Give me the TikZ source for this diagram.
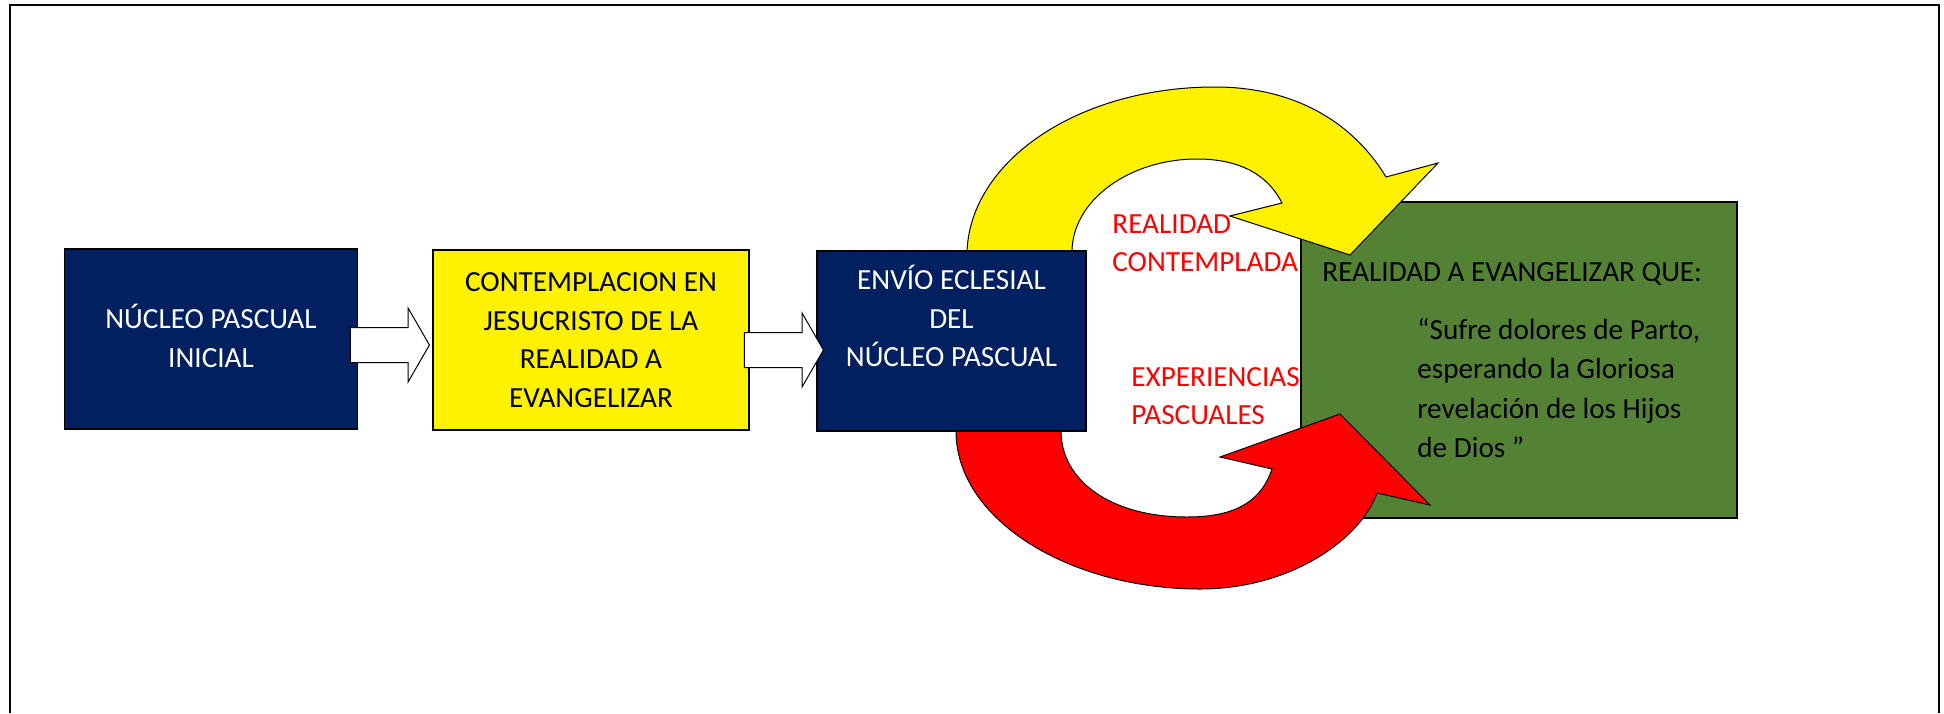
\documentclass[tikz,border=0pt]{standalone}
\usepackage{fontspec}
\setmainfont{Carlito}
\usetikzlibrary{shapes.arrows}
\definecolor{navy}{RGB}{0,32,96}
\definecolor{verde}{RGB}{84,130,53}

\begin{document}
\begin{tikzpicture}
		[x=0.5pt, y=-0.5pt,
		txt/.style ={font=\fontsize{14.6}{19.25}\selectfont},
		block/.style ={rectangle, draw=black, line width=0.6pt, txt, align=center, minimum height=90pt, inner sep=0pt},
		dark/.style = {block, fill=navy, text=white},
		bigarrow/.style ={single arrow, draw=black, line width=0.5pt, fill=white, minimum height=39.5pt, inner xsep=0pt, inner ysep=8.5pt, single arrow head extend=9.6pt, single arrow tip angle=120, anchor=tip},
		turn/.style ={draw=black, line width=0.5pt},
		redlabel/.style = {txt, text=red, align=left, inner sep=0pt, anchor=west},
		]

		\useasboundingbox (0,0) rectangle (1944,713);
		\draw[line width=0.8pt] (10,713) -- (10,5) -- (1939,5) -- (1939,713);

		\draw (1519,360) node[rectangle, draw=black, line width=0.6pt, fill=verde, minimum width=218pt, minimum height=158pt] (realidad) {};

		\filldraw[turn, fill=yellow]
		(967,252) .. controls (970,161) and (1078,87) .. (1215,87)
		.. controls (1300,87) and (1356,127) .. (1386,177)
		-- (1438,163) -- (1350,255) -- (1230,216) -- (1282,203)
		.. controls (1268,175) and (1240,159) .. (1197,159)
		.. controls (1130,159) and (1072,200) .. (1072,252) -- cycle;
		\filldraw[turn, fill=red]
		(956,431) .. controls (956,520) and (1070,589) .. (1200,589)
		.. controls (1290,589) and (1360,540) .. (1377,493)
		-- (1430,505) -- (1340,414) -- (1220,457) -- (1272,469)
		.. controls (1260,505) and (1230,517) .. (1187,517)
		.. controls (1110,517) and (1061,480) .. (1061,431) -- cycle;

		\draw (211,339) node[dark, minimum width=146.75pt] (inicial) {NÚCLEO PASCUAL\\INICIAL\rule[-3pt]{0pt}{0pt}};
		\draw (591,340) node[block, fill=yellow, minimum width=158pt] (contempla) {CONTEMPLACION EN\\JESUCRISTO DE LA\\REALIDAD A\\EVANGELIZAR};
		\draw (951.5,341) node[dark, minimum width=134.5pt] (envio) {ENVÍO ECLESIAL\\DEL\\NÚCLEO PASCUAL\\\strut};

		\draw (430,345) node[bigarrow] (paso1) {};
		\draw (824,350) node[bigarrow] (paso2) {};

		\draw (1112,243) node[redlabel] (contemplada) {REALIDAD\\CONTEMPLADA};
		\draw (1131,396) node[redlabel] (pascuales) {EXPERIENCIAS\\PASCUALES};
		\draw (1322,274) node[txt, anchor=west, inner sep=0pt] (titulo) {REALIDAD A EVANGELIZAR QUE:};
		\draw (1417,388) node[font=\fontsize{14.6}{19.7}\selectfont, anchor=west, align=left, inner sep=0pt] (cita) {“Sufre dolores de Parto,\\esperando la Gloriosa\\revelación de los Hijos\\de Dios ”};

	\end{tikzpicture}
\end{document}
